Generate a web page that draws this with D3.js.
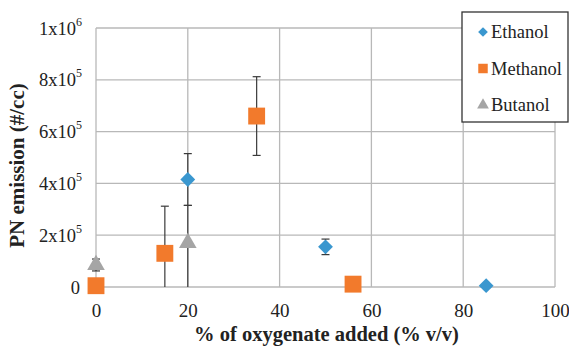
<!DOCTYPE html>
<html>
<head>
<meta charset="utf-8">
<script src="https://cdn.jsdelivr.net/npm/d3@7"></script>
<style>
  body { margin: 0; background: #fff; }
</style>
</head>
<body>
<div id="chart"></div>
<script>
// values
const seriesNames = ['Ethanol', 'Methanol', 'Butanol'];
const seriesColors = ['#3a97cf', '#f27a2c', '#a5a5a5'];

const ethanolX = [20, 50, 85];
const ethanolY = [4.15e5, 1.55e5, 5e3];
const ethanolErr = [1.0e5, 0.3e5, 0];

const methanolX = [0, 15, 35, 56];
const methanolY = [5e3, 1.3e5, 6.6e5, 1.1e4];
const methanolErr = [0, 1.82e5, 1.52e5, 0];

const butanolX = [0, 20];
const butanolY = [0.85e5, 1.7e5];
const butanolErrPlus = [0.23e5, 1.45e5];
const butanolErrMinus = [0.23e5, 1.75e5];

const xTicks = [0, 20, 40, 60, 80, 100];
const yTicks = [0, 2e5, 4e5, 6e5, 8e5, 1e6];

const FONT = 'Liberation Serif';
const W = 569, H = 347;
const margin = { top: 28, right: 14, bottom: 60, left: 96 };
const width = W - margin.left - margin.right,
      height = H - margin.top - margin.bottom;

const svg = d3.select('#chart').append('svg')
  .attr('width', W).attr('height', H)
  .attr('font-family', FONT);
const g = svg.append('g').attr('transform', `translate(${margin.left},${margin.top})`);

const x = d3.scaleLinear().domain([0, 100]).range([0, width]);
const y = d3.scaleLinear().domain([0, 1e6]).range([height, 0]);

// grid
g.append('g').selectAll('line').data(xTicks).enter().append('line')
  .attr('x1', d => x(d)).attr('x2', d => x(d))
  .attr('y1', 0).attr('y2', height)
  .attr('stroke', '#b8b8b8').attr('stroke-width', 1.3);
g.append('g').selectAll('line').data(yTicks).enter().append('line')
  .attr('x1', 0).attr('x2', width)
  .attr('y1', d => y(d)).attr('y2', d => y(d))
  .attr('stroke', '#b8b8b8').attr('stroke-width', 1.3);

// x axis labels
const xAxis = g.append('g').attr('transform', `translate(0,${height})`)
  .call(d3.axisBottom(x).tickValues(xTicks).tickSize(0).tickPadding(17));
xAxis.attr('font-family', FONT).attr('font-size', 19);
xAxis.select('.domain').remove();
xAxis.selectAll('text').attr('fill', '#222');

// y axis labels with superscripts
const yl = g.append('g').selectAll('text').data(yTicks).enter().append('text')
  .attr('x', -14).attr('y', d => y(d) + 6.5)
  .attr('text-anchor', 'end').attr('font-size', 18.5).attr('fill', '#222')
  .attr('font-family', FONT);
yl.each(function(d) {
  const t = d3.select(this);
  if (d === 0) { t.attr('x', -16).text('0'); return; }
  const e = Math.floor(Math.log10(d));
  const m = Math.round(d / Math.pow(10, e));
  t.append('tspan').text(`${m}x10`);
  t.append('tspan').attr('dy', -9).attr('font-size', 12).text(e);
});

// error bars
function errBar(xv, yv, plus, minus) {
  if (!plus && !minus) return;
  const hi = yv + plus, lo = Math.max(0, yv - minus);
  const cx = x(xv);
  g.append('line').attr('x1', cx).attr('x2', cx)
    .attr('y1', y(hi)).attr('y2', y(lo))
    .attr('stroke', '#3a3a3a').attr('stroke-width', 1.2);
  g.append('line').attr('x1', cx - 4).attr('x2', cx + 4)
    .attr('y1', y(hi)).attr('y2', y(hi))
    .attr('stroke', '#3a3a3a').attr('stroke-width', 1.2);
  if (yv - minus > 0) {
    g.append('line').attr('x1', cx - 4).attr('x2', cx + 4)
      .attr('y1', y(lo)).attr('y2', y(lo))
      .attr('stroke', '#3a3a3a').attr('stroke-width', 1.2);
  }
}
ethanolX.forEach((v, i) => errBar(v, ethanolY[i], ethanolErr[i], ethanolErr[i]));
methanolX.forEach((v, i) => errBar(v, methanolY[i], methanolErr[i], methanolErr[i]));
butanolX.forEach((v, i) => errBar(v, butanolY[i], butanolErrPlus[i], butanolErrMinus[i]));

// markers
const diamond = d3.symbol().type(d3.symbolDiamond2).size(140)();
const square = d3.symbol().type(d3.symbolSquare).size(285)();
const triangle = d3.symbol().type(d3.symbolTriangle).size(135)();

g.append('g').selectAll('path').data(butanolX).enter().append('path')
  .attr('d', triangle).attr('fill', seriesColors[2])
  .attr('transform', (d, i) => `translate(${x(d)},${y(butanolY[i])})`);
g.append('g').selectAll('path').data(methanolX).enter().append('path')
  .attr('d', square).attr('fill', seriesColors[1])
  .attr('transform', (d, i) => `translate(${x(d)},${y(methanolY[i])})`);
g.append('g').selectAll('path').data(ethanolX).enter().append('path')
  .attr('d', diamond).attr('fill', seriesColors[0])
  .attr('transform', (d, i) => `translate(${x(d)},${y(ethanolY[i])})`);

// axis titles
svg.append('text')
  .attr('transform', `translate(24,${margin.top + height / 2 + 8}) rotate(-90)`)
  .attr('text-anchor', 'middle').attr('font-size', 21).attr('font-weight', 'bold')
  .attr('fill', '#222').attr('font-family', FONT).text('PN emission (#/cc)');
svg.append('text')
  .attr('x', margin.left + width / 2 + 1).attr('y', 341)
  .attr('text-anchor', 'middle').attr('font-size', 20.5).attr('font-weight', 'bold')
  .attr('fill', '#222').attr('font-family', FONT).text('% of oxygenate added (% v/v)');

// legend
const legend = svg.append('g').attr('transform', 'translate(462,12)');
legend.append('rect').attr('width', 106).attr('height', 110)
  .attr('fill', '#fff').attr('stroke', '#333').attr('stroke-width', 1.3);
const legSyms = [
  d3.symbol().type(d3.symbolDiamond2).size(60)(),
  d3.symbol().type(d3.symbolSquare).size(90)(),
  d3.symbol().type(d3.symbolTriangle).size(60)()
];
seriesNames.forEach((name, i) => {
  const row = legend.append('g').attr('transform', `translate(0,${20 + i * 36.5})`);
  row.append('path').attr('d', legSyms[i]).attr('fill', seriesColors[i])
    .attr('transform', 'translate(21,0)');
  row.append('text').attr('x', 29).attr('y', 6)
    .attr('font-size', 18.5).attr('fill', '#222').attr('font-family', FONT).text(name);
});
</script>
</body>
</html>
